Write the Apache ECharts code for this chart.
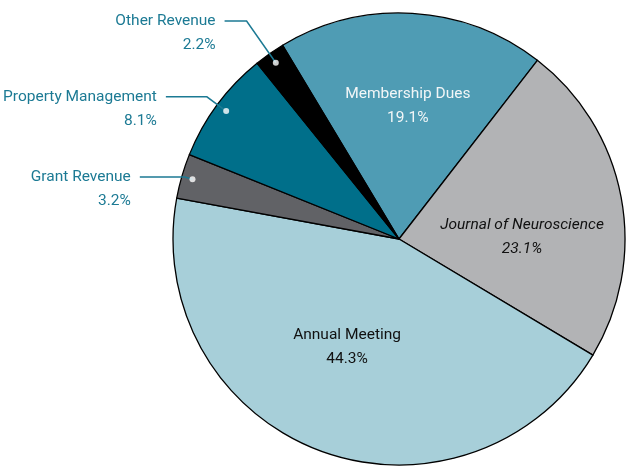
<!DOCTYPE html>
<html>
<head>
<meta charset="utf-8">
<script src="https://cdn.jsdelivr.net/npm/echarts@6/dist/echarts.min.js"></script>
<style>
  html, body { margin: 0; padding: 0; background: #fff; }
  #content { width: 626px; height: 467px; }
</style>
</head>
<body>
<div id="content"></div>
<script>
// revenue shares, clockwise from the top
var names = ['Membership Dues', 'Journal of Neuroscience', 'Annual Meeting',
             'Grant Revenue', 'Property Management', 'Other Revenue'];
var values = [19.1, 23.1, 44.3, 3.2, 8.1, 2.2];
var colors = ['#4f9cb4', '#b2b3b5', '#a7cfd9', '#616266', '#006f8a', '#000000'];
// slices labelled outside with a callout line
var callouts = [3, 4, 5];

var myChart = echarts.init(document.getElementById('content'));

var font = 'Roboto, "Liberation Sans", sans-serif';
var teal = '#1c7a94';
var center = [399, 239];

// inside labels of the big slices
var insideLabel = [
    {color: '#f2f6f7', offset: [2, -17]},
    {color: '#111', offset: [9, 20], fontStyle: 'italic'},
    {color: '#111', offset: [-11, 0]}
];
// callout line shape per small slice
var lineLen = {3: [8, 45], 4: [24, 41], 5: [51, 22]};

var mainData = [], helperData = [], dots = [];
var total = 0, acc = 0;
values.forEach(function (v) { total += v; });
values.forEach(function (v, i) {
    var lab = insideLabel[i];
    mainData.push({
        name: names[i], value: v,
        itemStyle: {color: colors[i]},
        label: lab ? {
            show: true, color: lab.color, offset: lab.offset,
            fontStyle: lab.fontStyle || 'normal'
        } : {show: false}
    });
    var isCallout = callouts.indexOf(i) >= 0;
    helperData.push({
        name: names[i], value: v,
        label: {show: isCallout},
        labelLine: isCallout ? {show: true, length: lineLen[i][0], length2: lineLen[i][1]} : {show: false}
    });
    if (isCallout) dots.push([1, (acc + v / 2) / total * 100]);
    acc += v;
});

var option = {
    backgroundColor: '#fff',
    animation: false,
    polar: {center: center, radius: 215},
    angleAxis: {type: 'value', min: 0, max: 100, startAngle: 121, clockwise: true, show: false},
    radiusAxis: {type: 'value', min: 0, max: 1, show: false},
    series: [
        {
            type: 'pie',
            center: center,
            radius: 226,
            startAngle: 121,
            clockwise: true,
            silent: true,
            itemStyle: {borderColor: '#000', borderWidth: 1.3},
            label: {
                position: 'inside',
                formatter: '{b}\n{c}%',
                fontFamily: font,
                fontSize: 15.5,
                lineHeight: 24
            },
            labelLine: {show: false},
            data: mainData
        },
        {
            // invisible ring just inside the edge, carries the callout labels
            type: 'pie',
            center: center,
            radius: 215,
            startAngle: 121,
            clockwise: true,
            silent: true,
            avoidLabelOverlap: false,
            itemStyle: {color: 'rgba(0,0,0,0)', borderWidth: 0},
            label: {
                position: 'outside',
                // blank first line so the line meets the name row
                formatter: ' \n{b}\n{c}%',
                fontFamily: font,
                fontSize: 15.5,
                lineHeight: 24,
                color: teal,
                distanceToLabelLine: 9
            },
            labelLine: {lineStyle: {color: teal, width: 1.5}},
            z: 3,
            data: helperData
        },
        {
            type: 'scatter',
            coordinateSystem: 'polar',
            symbolSize: 6,
            silent: true,
            itemStyle: {color: '#fff'},
            z: 5,
            data: dots
        }
    ]
};
myChart.setOption(option);
</script>
</body>
</html>
